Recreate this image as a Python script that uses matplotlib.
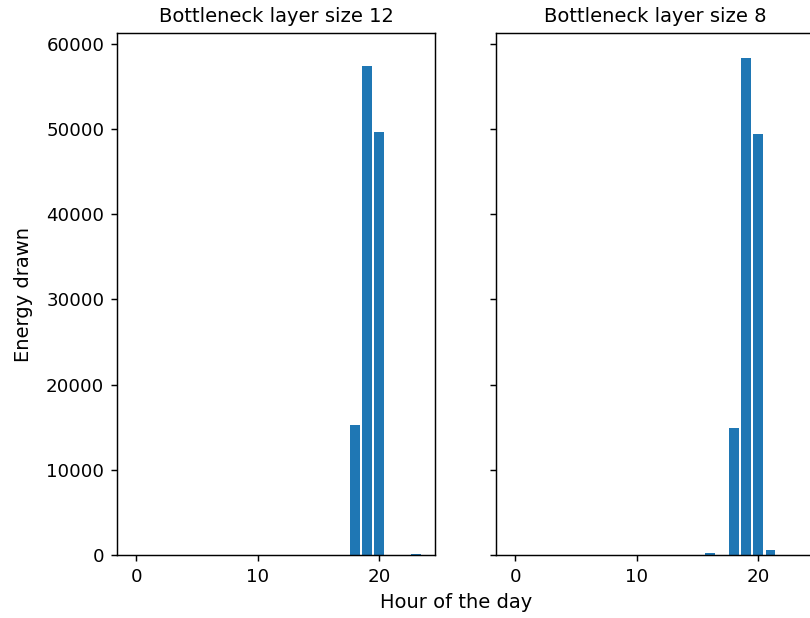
import matplotlib
matplotlib.use("Agg")
import matplotlib.pyplot as plt


HOURS = list(range(24))
ENERGY_SIZE_12 = [0] * 18 + [15250, 57400, 49650, 0, 0, 150]
ENERGY_SIZE_8 = [0] * 16 + [200, 0, 14900, 58350, 49450, 600, 0, 0]

TITLES = ["Bottleneck layer size 12", "Bottleneck layer size 8"]
SERIES = [ENERGY_SIZE_12, ENERGY_SIZE_8]
LABEL_SIZE = 10.7


def main():
    dpi = 131
    fig = plt.figure(figsize=(810 / dpi, 618 / dpi), dpi=dpi)
    ax1 = fig.add_axes([117 / 810, 63 / 618, 318 / 810, 522 / 618])
    ax2 = fig.add_axes([496 / 810, 63 / 618, 318 / 810, 522 / 618], sharey=ax1)

    for ax, title, values in zip([ax1, ax2], TITLES, SERIES):
        ax.bar(HOURS, values, color="#1f77b4")
        ax.set_title(title, fontsize=LABEL_SIZE)
        ax.set_xticks([0, 10, 20])
    plt.setp(ax2.get_yticklabels(), visible=False)

    ax1.set_ylabel("Energy drawn", fontsize=LABEL_SIZE, labelpad=7)
    fig.text(456 / 810, 1 - 602 / 618, "Hour of the day", ha="center", va="center",
             fontsize=LABEL_SIZE)

    fig.savefig("out.png", dpi=dpi)
    plt.close(fig)


if __name__ == "__main__":
    main()
